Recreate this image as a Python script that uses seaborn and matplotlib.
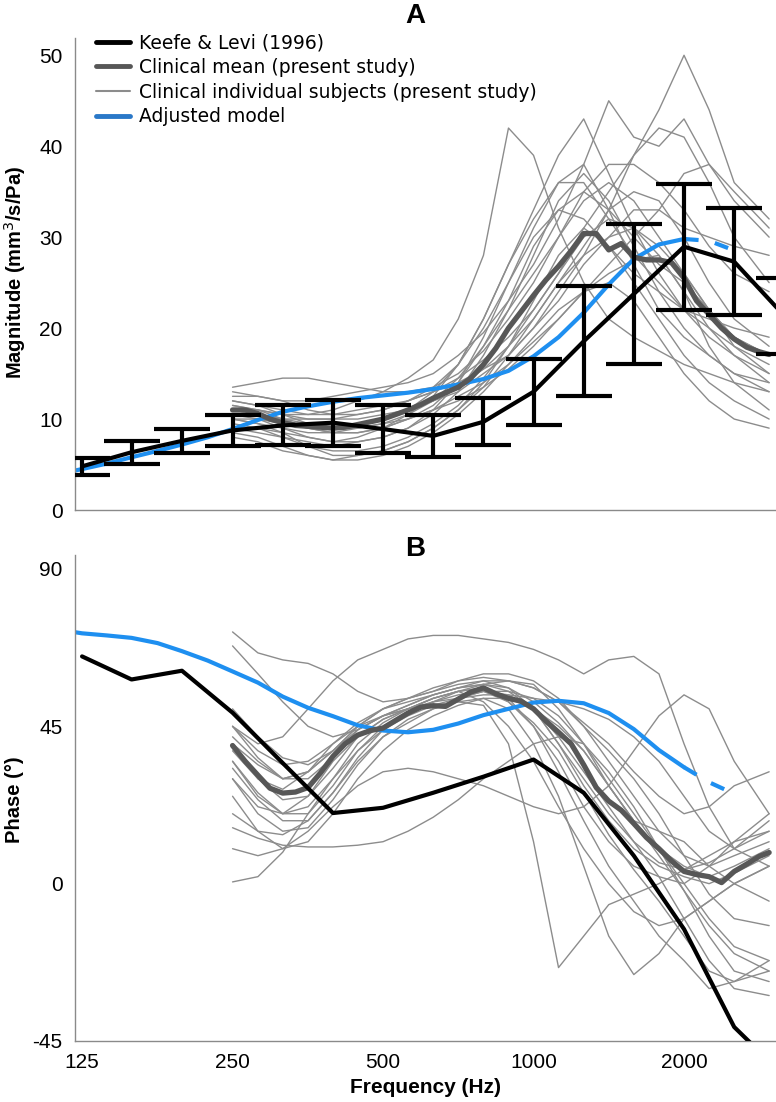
import numpy as np
import pandas as pd
import matplotlib
matplotlib.use("Agg")
import matplotlib.pyplot as plt
from matplotlib.lines import Line2D
import seaborn as sns

# ===============================
# DATA
# ===============================
# Keefe & Levi (1996), 1/3-octave
kl_freq = [125, 157, 198, 250, 315, 397, 500, 630, 794, 1000, 1260, 1587, 2000, 2520, 3175]
kl_mag = [4.8, 6.35, 7.6, 8.75, 9.3, 9.6, 8.9, 8.15, 9.7, 13.0, 18.55, 23.75, 28.95, 27.3, 21.35]
kl_mag_sd = [0.9, 1.25, 1.3, 1.75, 2.2, 2.55, 2.6, 2.35, 2.6, 3.6, 6.05, 7.75, 6.95, 5.9, 4.15]
kl_phase = [65.0, 58.4, 60.9, 48.9, 34.5, 20.2, 21.7, 26.0, 30.6, 35.5, 26.0, 8.0, -13.0, -41.0, -55.0]

# adjusted model
model_freq = [120, 125, 140, 157, 177, 198, 223, 250, 281, 315, 354, 397, 445, 500, 561, 630,
              707, 794, 891, 1000, 1122, 1260, 1414, 1587, 1782, 2000, 2245, 2450]
model_mag = [4.3, 4.5, 5.1, 5.8, 6.5, 7.2, 8.0, 8.9, 9.9, 10.8, 11.4, 11.9, 12.3, 12.6, 12.9, 13.3,
             13.8, 14.4, 15.3, 16.9, 19.0, 21.7, 24.8, 27.6, 29.2, 29.8, 29.6, 28.8]
model_phase = [72.0, 71.6, 71.0, 70.3, 68.8, 66.5, 63.8, 60.7, 57.5, 53.5, 50.3, 47.9, 45.3, 43.8, 43.3, 44.0,
               45.8, 48.2, 50.0, 51.8, 52.3, 51.6, 48.8, 44.2, 38.2, 33.3, 29.0, 26.5]

# clinical mean, 1/12-octave
mean_freq = [250, 265, 281, 297, 315, 334, 354, 375, 397, 420, 445, 472, 500, 530, 561, 595, 630, 667,
             707, 749, 794, 841, 891, 944, 1000, 1059, 1122, 1189, 1260, 1335, 1414, 1498, 1587, 1682,
             1782, 1888, 2000, 2119, 2245, 2378, 2520, 2670, 2828, 2960]
mean_mag = [11.0, 11.0, 10.6, 10.0, 9.6, 9.3, 9.2, 9.1, 9.0, 9.1, 9.4, 9.7, 10.0, 10.5, 11.0, 11.6, 12.3, 12.9,
            13.5, 14.5, 16.0, 17.8, 20.0, 21.8, 23.6, 25.3, 26.8, 28.5, 30.4, 30.4, 28.6, 29.3, 27.8, 27.5,
            27.5, 27.2, 25.5, 23.0, 21.5, 20.0, 18.8, 17.9, 17.4, 17.1]
mean_phase = [39.5, 35.0, 31.0, 27.3, 25.9, 26.2, 27.5, 31.7, 36.4, 40.0, 42.5, 43.8, 44.5, 46.7, 48.8, 50.5,
              50.9, 50.7, 52.8, 54.8, 56.0, 54.3, 53.0, 52.2, 50.0, 46.5, 43.3, 40.0, 34.0, 27.5, 23.6, 21.0,
              17.2, 13.2, 10.0, 6.5, 3.5, 2.6, 2.0, 0.3, 3.5, 5.6, 7.8, 8.9]

# individual subjects, 1/6-octave
subj_freq = [250, 281, 315, 354, 397, 445, 500, 561, 630, 707, 794, 891, 1000, 1122, 1260, 1414,
             1587, 1782, 2000, 2245, 2520, 2960]
subj_mag = [
    [11.5, 11, 10.5, 10.5, 11, 12, 13, 14.5, 16.5, 21, 28, 42, 39, 31, 25, 21, 19, 17.5, 16, 15, 14, 13],
    [12, 11.5, 11, 10.5, 10.5, 11, 11.5, 12, 13, 14, 15.5, 17, 20, 24, 28, 33, 39, 44, 50, 44, 36, 32],
    [13, 12.5, 12, 12, 12.5, 13, 13.5, 14, 15, 17, 19.5, 23, 27, 32, 38, 45, 41, 40, 43, 38, 35, 31],
    [10, 10, 9.5, 9, 9, 9.5, 10, 11, 13, 16, 21, 27, 33, 39, 43, 37, 31, 26, 22, 19, 17, 15],
    [11, 10.5, 10, 10, 10, 10.5, 11, 12, 13, 14.5, 16.5, 19, 22, 26, 31, 35, 39, 42, 41, 36, 30, 25],
    [10.5, 10, 9, 8, 7.5, 8, 9, 10.5, 12.5, 16, 21, 27, 32, 36, 36, 32, 28, 25, 22, 20, 18, 16],
    [9, 9, 8.5, 8, 7.5, 7.5, 8, 9, 10.5, 13, 17, 22, 28, 34, 37, 34, 29, 24, 20, 17, 15, 13],
    [11.5, 11, 10, 9, 8.5, 8.5, 9, 10, 11.5, 14, 18, 23, 29, 33, 35, 33, 30, 27, 25, 22, 19, 17],
    [12, 11.5, 10.5, 9.5, 9, 9, 9.5, 10.5, 12, 14.5, 18, 22, 26, 30, 34, 36, 34, 30, 26, 22, 19, 17],
    [10, 9.5, 8.5, 7, 6.5, 6.5, 7, 8, 9.5, 11.5, 14.5, 18, 22, 26, 30, 32, 31, 28, 24, 20, 17, 14],
    [9.5, 9, 8, 7, 6, 6, 6.5, 7.5, 9, 11, 13.5, 17, 21, 25, 28, 30, 31, 29, 26, 22, 18, 15],
    [13.5, 14, 14.5, 14.5, 14, 13.5, 13, 13, 13.5, 15, 17.5, 21, 25, 30, 35, 38, 38, 36, 33, 29, 26, 24],
    [10, 9.5, 9, 8.5, 8.5, 9, 9.5, 10, 11, 12, 13.5, 15.5, 18, 21, 24, 27, 30, 33, 37, 38, 34, 30],
    [8.5, 8, 7, 6, 5.5, 5.5, 6, 7, 8.5, 10.5, 13, 16, 19, 22, 24, 25, 23, 19, 15, 12, 10, 9],
    [11, 10.5, 10, 9, 8.5, 8.5, 9, 10, 11, 12.5, 14, 16, 18.5, 21, 24, 26, 27.5, 28, 24, 18, 14, 11],
    [11, 11, 10.5, 10, 10, 10, 10.5, 11, 12, 13, 15, 17, 20, 23, 27, 30, 33, 33, 31, 30, 29, 28],
    [9, 8.5, 8, 7.5, 7, 7.5, 8, 9, 11, 14, 19, 25, 31, 36, 38, 33, 27, 22, 19, 17, 15, 14],
    [10.5, 10.5, 10, 9.5, 9.5, 9.5, 10, 11, 12, 13.5, 15.5, 18, 21, 25, 29, 33, 35, 34, 30, 25, 21, 18],
    [8, 7.5, 6.5, 6, 5.5, 6, 6.5, 7.5, 9, 11, 14, 18, 23, 28, 31, 29, 25, 21, 17, 14, 12, 10],
    [12.5, 12.5, 12, 11, 10.5, 10.5, 11, 12, 13.5, 16, 20, 25, 30, 33, 32, 29, 26, 24, 22, 21, 20, 19],
]
subj_phase = [
    [38, 30, 27, 32, 40, 45, 48, 50, 51, 52, 51, 40, 12, -24, -15, -6, -3, 0, 4, 8, 12, 15],
    [45, 40, 42, 50, 58, 64, 67, 70, 71, 71, 70, 69, 67, 64, 60, 64, 65, 60, 40, 22, 10, 5],
    [30, 22, 20, 25, 35, 42, 47, 50, 53, 55, 57, 58, 57, 50, 40, 28, 18, 15, 12, 5, 0, -5],
    [35, 25, 20, 22, 30, 40, 46, 50, 53, 55, 52, 45, 35, 22, 10, 0, -8, -12, -10, -5, 0, 5],
    [42, 35, 30, 32, 38, 45, 50, 53, 55, 57, 58, 58, 56, 52, 45, 38, 30, 20, 8, -3, -10, -12],
    [40, 30, 24, 25, 33, 42, 47, 50, 53, 55, 56, 52, 45, 35, 22, 12, 5, 2, 0, 5, 12, 20],
    [35, 26, 20, 20, 28, 38, 45, 49, 52, 54, 55, 52, 46, 38, 26, 14, 4, -5, -15, -25, -28, -25],
    [45, 36, 30, 30, 36, 44, 48, 51, 54, 56, 57, 55, 50, 40, 28, 18, 10, 5, 2, 0, 3, 8],
    [68, 60, 52, 45, 42, 44, 48, 51, 54, 56, 57, 56, 52, 46, 38, 28, 18, 10, 5, 2, 5, 10],
    [30, 20, 15, 16, 24, 34, 42, 47, 50, 53, 55, 54, 50, 42, 32, 22, 12, 2, -10, -22, -30, -32],
    [25, 15, 10, 12, 20, 30, 38, 44, 48, 51, 53, 53, 50, 45, 38, 28, 18, 8, -2, -12, -20, -25],
    [72, 66, 64, 63, 60, 55, 52, 53, 55, 58, 60, 60, 58, 53, 45, 35, 25, 15, 8, 5, 8, 12],
    [40, 34, 30, 32, 38, 44, 48, 50, 52, 53, 54, 54, 53, 52, 50, 47, 42, 35, 25, 15, 10, 15],
    [10, 8, 10, 15, 22, 28, 32, 33, 32, 30, 28, 25, 22, 20, 22, 28, 38, 48, 54, 50, 35, 20],
    [20, 15, 14, 18, 26, 35, 42, 46, 50, 52, 53, 50, 40, 25, 5, -15, -26, -20, -10, -5, 0, 5],
    [45, 38, 34, 35, 40, 46, 50, 53, 56, 58, 59, 58, 56, 52, 46, 40, 32, 25, 20, 22, 28, 32],
    [33, 24, 18, 18, 26, 36, 44, 49, 52, 55, 56, 53, 45, 32, 18, 5, -5, -15, -22, -30, -28, -22],
    [0.5, 2, 9, 20, 30, 38, 44, 48, 51, 53, 55, 55, 53, 48, 40, 30, 20, 10, 0, -10, -18, -22],
    [16, 13, 11, 10.5, 10.5, 11, 12, 15, 19, 24, 30, 35, 40, 42, 40, 32, 22, 10, -2, -15, -25, -28],
    [50, 42, 36, 34, 38, 45, 50, 52, 54, 56, 58, 56, 50, 40, 30, 20, 12, 6, 4, 6, 10, 18],
]

xticks = [125, 250, 500, 1000, 2000, 3000]
xtick_labels = ["125", "250", "500", "1000", "2000", ""]

# ===============================
# STYLE
# ===============================
sns.set_style("white")
plt.rcParams["font.family"] = ["DejaVu Sans"]
plt.rcParams["text.color"] = "black"
plt.rcParams["axes.labelcolor"] = "black"
plt.rcParams["xtick.labelcolor"] = "black"
plt.rcParams["ytick.labelcolor"] = "black"
plt.rcParams["axes.unicode_minus"] = False
TICK_FONT = ["Liberation Sans Narrow", "Liberation Sans", "DejaVu Sans"]
BOLD_FONT = ["Liberation Sans", "DejaVu Sans"]

C_INDIV = "#8c8c8c"
C_MEAN = "#575757"
C_KL = "black"
C_MODEL = "#1e8ff0"
C_SPINE = "#8a8a8a"

# long-form tables for seaborn
subj_df = pd.DataFrame({
    "subject": np.repeat(np.arange(len(subj_mag)), len(subj_freq)),
    "freq": np.tile(subj_freq, len(subj_mag)),
    "mag": np.concatenate(subj_mag),
    "phase": np.concatenate(subj_phase),
})
mean_df = pd.DataFrame({"freq": mean_freq, "mag": mean_mag, "phase": mean_phase})
kl_df = pd.DataFrame({"freq": kl_freq, "mag": kl_mag, "sd": kl_mag_sd, "phase": kl_phase})
model_df = pd.DataFrame({"freq": model_freq, "mag": model_mag, "phase": model_phase})
model_solid = model_df[model_df["freq"] <= 2000]
model_tail = model_df[model_df["freq"] >= 2000]

W, H = 776, 1102
fig = plt.figure(figsize=(W / 100, H / 100), dpi=100)
axA = fig.add_axes([75 / W, 1 - 510 / H, 701 / W, 472 / H])
axB = fig.add_axes([75 / W, 1 - 1041 / H, 701 / W, 486 / H])


def draw_panel(ax, col):
    sns.lineplot(data=subj_df, x="freq", y=col, units="subject", estimator=None,
                 color=C_INDIV, lw=1.0, ax=ax, legend=False, zorder=1)
    sns.lineplot(data=model_solid, x="freq", y=col, color=C_MODEL, lw=3,
                 ax=ax, legend=False, zorder=2)
    sns.lineplot(data=model_tail, x="freq", y=col, color=C_MODEL, lw=3, ax=ax,
                 legend=False, zorder=2, linestyle=(0, (3.5, 4)))
    sns.lineplot(data=mean_df, x="freq", y=col, color=C_MEAN, lw=3.8, ax=ax,
                 legend=False, zorder=3)
    sns.lineplot(data=kl_df, x="freq", y=col, color=C_KL, lw=3, ax=ax,
                 legend=False, zorder=4)
    ax.set_xscale("log")
    ax.set_xlim(121, 3055)
    ax.set_xticks(xticks)
    ax.xaxis.set_minor_locator(plt.NullLocator())
    for s in ["top", "right"]:
        ax.spines[s].set_visible(False)
    for s in ["left", "bottom"]:
        ax.spines[s].set_color(C_SPINE)
        ax.spines[s].set_linewidth(1.0)
    ax.tick_params(direction="in", length=6, width=1, color=C_SPINE,
                   labelsize=15, pad=9, labelcolor="black")
    ax.set_xlabel("")
    ax.set_ylabel("")


# ---- A: magnitude ----
draw_panel(axA, "mag")
axA.errorbar(kl_df["freq"], kl_df["mag"], yerr=kl_df["sd"], fmt="none", ecolor=C_KL,
             elinewidth=3, capsize=20, capthick=3, zorder=5)
axA.set_ylim(0, 51.9)
axA.set_yticks([0, 10, 20, 30, 40, 50])
axA.set_xticklabels([])

# ---- B: phase ----
draw_panel(axB, "phase")
axB.set_ylim(-45, 94)
axB.set_yticks([-45, 0, 45, 90])
axB.set_xticklabels(xtick_labels)

for ax in (axA, axB):
    for lab in ax.get_xticklabels() + ax.get_yticklabels():
        lab.set_family(TICK_FONT)

axB.set_xlabel("Frequency (Hz)", fontsize=15, fontweight="bold", family=TICK_FONT, labelpad=4)
fig.text(15 / W, 1 - 272 / H, "Magnitude (mm$^3$/s/Pa)", rotation=90, ha="center", va="center",
         fontsize=14.5, fontweight="bold", family=BOLD_FONT)
fig.text(15 / W, 1 - 800 / H, "Phase (°)", rotation=90, ha="center", va="center",
         fontsize=14.5, fontweight="bold", family=BOLD_FONT)

fig.text(415 / W, 1 - 16 / H, "A", ha="center", va="center", fontsize=20,
         fontweight="bold", family=BOLD_FONT)
fig.text(415 / W, 1 - 549 / H, "B", ha="center", va="center", fontsize=20,
         fontweight="bold", family=BOLD_FONT)

# legend
handles = [
    Line2D([], [], color=C_KL, lw=3.5),
    Line2D([], [], color=C_MEAN, lw=3.5),
    Line2D([], [], color=C_INDIV, lw=1.5),
    Line2D([], [], color="#2a78c8", lw=3.5),
]
labels = ["Keefe & Levi (1996)", "Clinical mean (present study)",
          "Clinical individual subjects (present study)", "Adjusted model"]
axA.legend(handles, labels, loc="upper left", bbox_to_anchor=(0.03, 1.01), frameon=False,
           fontsize=13.5, handlelength=1.8, handletextpad=0.5, labelspacing=0.3,
           borderpad=0, borderaxespad=0)

fig.savefig("out.png", dpi=100)
